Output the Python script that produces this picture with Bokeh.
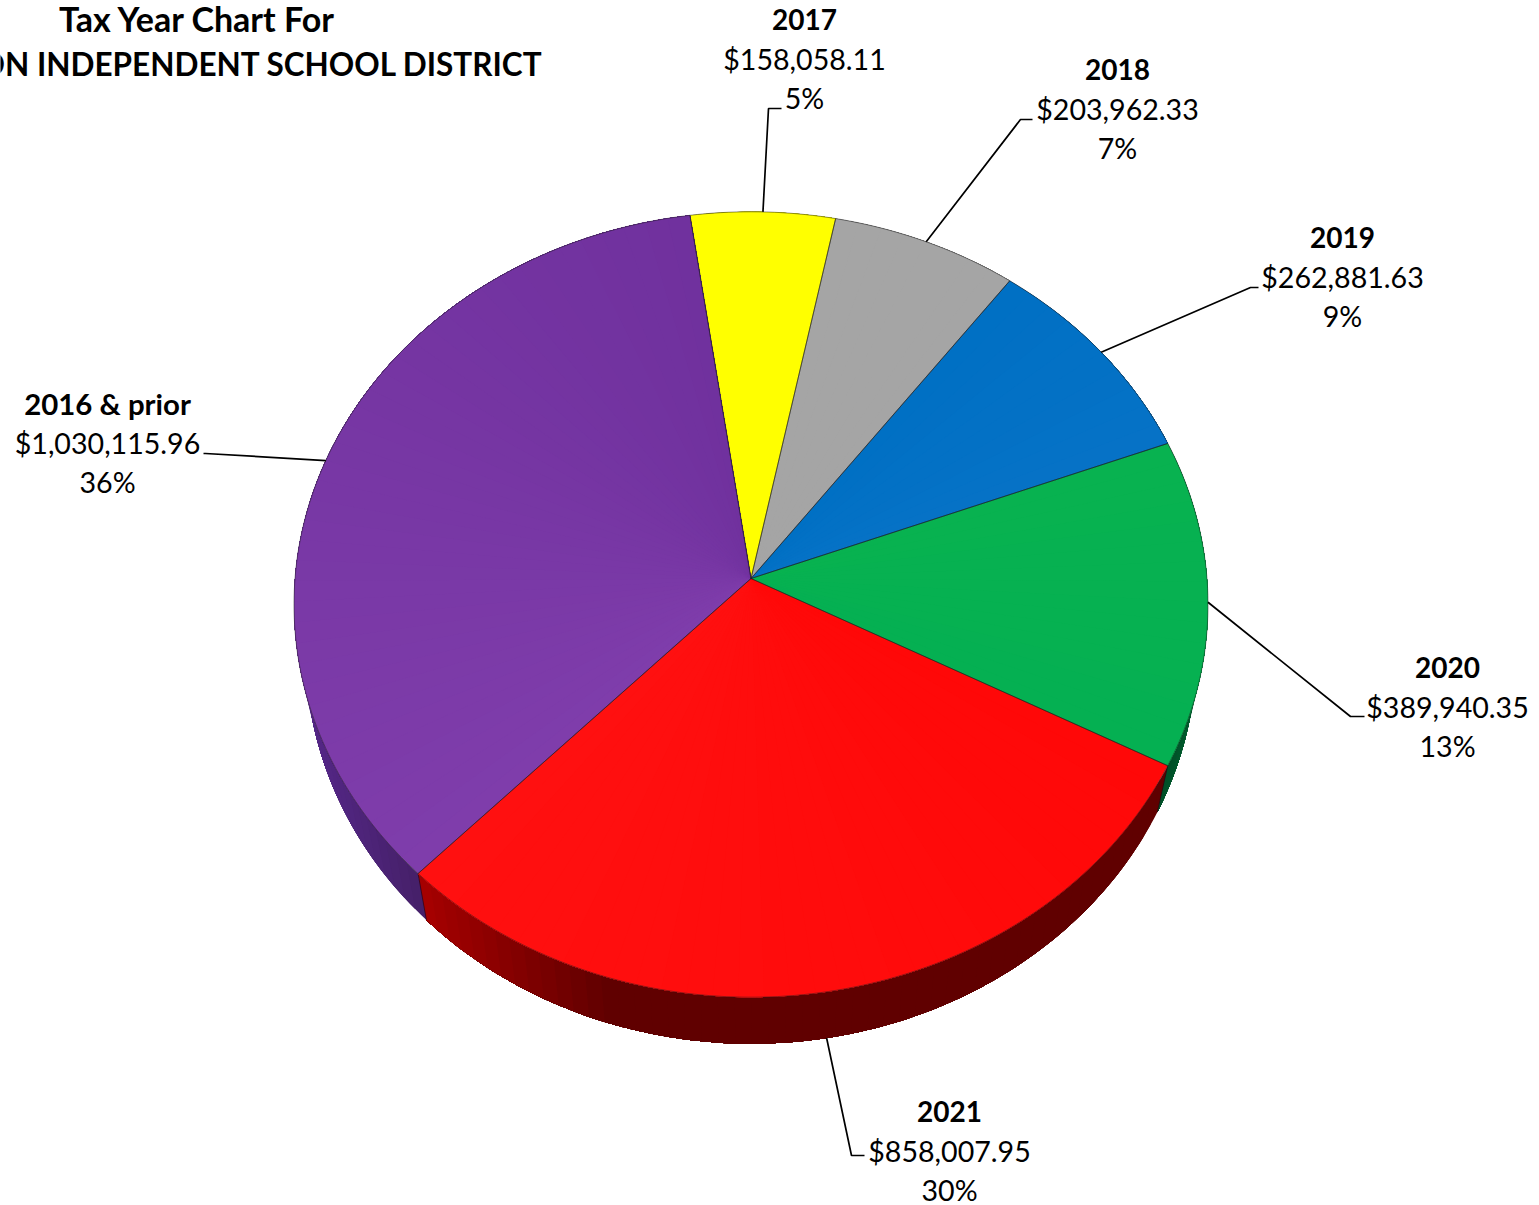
import math
from bokeh.core.properties import value
from bokeh.embed import file_html
from bokeh.models import ColumnDataSource, Range1d
from bokeh.plotting import figure
from bokeh.resources import INLINE

# Delinquent tax balance by tax year
tax_years = ["2017", "2018", "2019", "2020", "2021", "2016 & prior"]
amounts = [158058.11, 203962.33, 262881.63, 389940.35, 858007.95, 1030115.96]
percent_labels = ["5%", "7%", "9%", "13%", "30%", "36%"]

# Colours of the top face, as (clockwise start, clockwise end) of each slice
top_colors = [
    ("#ffff00", "#ffff00"),
    ("#a5a5a5", "#a5a5a5"),
    ("#0070c4", "#0672c6"),
    ("#08b250", "#05b052"),
    ("#ff0808", "#ff1010"),
    ("#7f3dab", "#70319e"),
]
# Rim shading by page x: (x at left, colour at left, x at right, colour at right)
wall_shades = [
    (700, "#808000", 800, "#808000"),
    (800, "#555555", 1000, "#555555"),
    (1000, "#003a66", 1170, "#003a66"),
    (1160, "#005028", 1200, "#006030"),
    (428, "#a60000", 610, "#600000"),
    (300, "#57288c", 428, "#452068"),
]

# Perspective disc on the page, in pixels
CX, CY = 750.5, 578.0
RX, RY = 456.0, 391.0
PERSPECTIVE = -0.0662
START_ANGLE = -8.2
RIM_DROP = 46.5
RIM_SCALE = 0.975

# Label layout: centre x, y of the three lines, leader bend and leader end
label_x = [804, 1117, 1342, 1447, 949, 107]
label_y = [20, 70, 238, 668, 1112, 404]
year_sizes = ["28px", "28px", "28px", "28px", "28px", "29.4px"]
leader_bend = [(768, 108), (1020, 119), (1250, 287), (1350, 716), (851, 1155), (205, 453)]
leader_end = [(781, 108), (1032, 119), (1258, 287), (1364, 716), (864, 1155), (203, 453)]
LINE_STEP = 39


def rim_point(deg):
    """Page position of a point on the top rim, clockwise from twelve o'clock."""
    t = math.radians(deg)
    sx, sy = math.sin(t), -math.cos(t)
    w = 1 + PERSPECTIVE * sy
    return CX + RX * sx / w, CY + RY * sy / w


def lower_point(deg):
    x, y = rim_point(deg)
    return CX + (x - CX) * RIM_SCALE, y + RIM_DROP


def mix(c0, c1, f):
    f = min(1.0, max(0.0, f))
    a = [int(c0[i:i + 2], 16) for i in (1, 3, 5)]
    b = [int(c1[i:i + 2], 16) for i in (1, 3, 5)]
    return "#%02x%02x%02x" % tuple(round(u + (v - u) * f) for u, v in zip(a, b))


def sweep(a0, a1):
    """Angles from a0 to a1 in steps of about one degree."""
    n = max(2, int(a1 - a0))
    return [a0 + (a1 - a0) * j / n for j in range(n + 1)]


total = sum(amounts)
edges = [START_ANGLE]
for amount in amounts:
    edges.append(edges[-1] + 360 * amount / total)

p = figure(
    width=1539, height=1205, output_backend="svg", toolbar_location=None,
    x_range=Range1d(0, 1539), y_range=Range1d(1205, 0),
    min_border=0, background_fill_color="white", border_fill_color="white",
    outline_line_color=None,
)
p.axis.visible = False
p.grid.visible = False

# Rim bands first; each band reaches the slice's end, so later bands paint over
# it and no seams show between neighbours
wx, wy, wc = [], [], []
for i in range(len(amounts)):
    a0, a1 = edges[i], edges[i + 1]
    n = max(2, int((a1 - a0) / 2))
    x0, c0, x1, c1 = wall_shades[i]
    for k in range(n):
        u0 = a0 + (a1 - a0) * k / n
        arc = sweep(u0, a1)
        pts = [rim_point(u) for u in arc] + [lower_point(u) for u in reversed(arc)]
        wx.append([q[0] for q in pts])
        wy.append([q[1] for q in pts])
        px = lower_point(u0 + (a1 - a0) / (2 * n))[0]
        wc.append(mix(c0, c1, (px - x0) / (x1 - x0)))
p.patches(wx, wy, fill_color=wc, line_color=None)

# Dark edge where two rim colours meet
for b in (edges[4], edges[5]):
    s, e = rim_point(b), lower_point(b)
    p.line([s[0], e[0]], [s[1], e[1]], line_color="#200010", line_alpha=0.6, line_width=1)

# Top face, built from overlapping wedges that carry the soft shading
tx, ty, tc = [], [], []
for i in range(len(amounts)):
    a0, a1 = edges[i], edges[i + 1]
    n = max(4, int((a1 - a0) / 3))
    for k in range(n):
        u0 = a0 + (a1 - a0) * k / n
        arc = [rim_point(u) for u in sweep(u0, a1)]
        tx.append([CX] + [q[0] for q in arc])
        ty.append([CY] + [q[1] for q in arc])
        tc.append(mix(*top_colors[i], (k + 0.5) / n))
p.patches(tx, ty, fill_color=tc, line_color=None)

# Thin dark outline around each slice
ox, oy = [], []
for i in range(len(amounts)):
    arc = [rim_point(u) for u in sweep(edges[i], edges[i + 1])]
    ox.append([CX] + [q[0] for q in arc])
    oy.append([CY] + [q[1] for q in arc])
p.patches(ox, oy, fill_color=None, line_color="#202020", line_alpha=0.5, line_width=1)

# Leader lines: from the rim at each slice's middle to its label
for i in range(len(amounts)):
    mid = (edges[i] + edges[i + 1]) / 2
    s = lower_point(mid) if i == 4 else rim_point(mid)
    xs = [s[0], leader_bend[i][0], leader_end[i][0]]
    ys = [s[1], leader_bend[i][1], leader_end[i][1]]
    p.line(xs, ys, line_color="#000000", line_width=1.7)

# Three-line labels: year, amount, share
year_src = ColumnDataSource(dict(x=label_x, y=[v - 1 for v in label_y], t=tax_years, s=year_sizes))
p.text("x", "y", text="t", source=year_src, text_font=value("Lato"), text_font_size="s",
       text_font_style="bold", text_align="center", text_baseline="middle", text_color="#000000")
amt_src = ColumnDataSource(dict(
    x=label_x, y=[v + LINE_STEP - 1 for v in label_y], t=[f"${v:,.2f}" for v in amounts]))
p.text("x", "y", text="t", source=amt_src, text_font=value("Lato"), text_font_size="28.6px",
       text_align="center", text_baseline="middle", text_color="#000000")
pct_src = ColumnDataSource(dict(
    x=label_x, y=[v + 2 * LINE_STEP - 1 for v in label_y], t=percent_labels))
p.text("x", "y", text="t", source=pct_src, text_font=value("Lato"), text_font_size="28.6px",
       text_align="center", text_baseline="middle", text_color="#000000")

# Heading, running off the left side of the page
p.text([197], [18], text=["Tax Year Chart For"], text_font=value("Lato"), text_font_size="34px",
       text_font_style="bold", text_align="center", text_baseline="middle", text_color="#000000")
p.text([543], [63], text=["ON INDEPENDENT SCHOOL DISTRICT"], text_font=value("Lato"),
       text_font_size="31.5px", text_font_style="bold", text_align="right", text_baseline="middle",
       text_color="#000000")

open("out.html", "w").write(file_html(p, INLINE))
